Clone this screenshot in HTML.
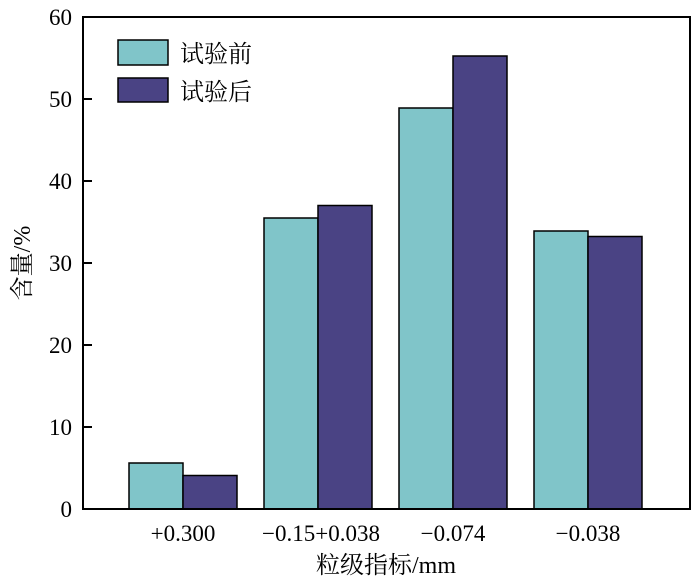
<!DOCTYPE html>
<html><head><meta charset="utf-8"><style>body{margin:0;background:#fff}</style></head><body>
<svg width="700" height="581" xmlns="http://www.w3.org/2000/svg" font-family="'Liberation Serif','Noto Serif CJK SC',serif">
<rect width="700" height="581" fill="#fff"/>
<g stroke="#000" stroke-width="1.5">
<rect x="129" y="463" width="54" height="46" fill="#80c5c9"/>
<rect x="183" y="475.5" width="54" height="33.5" fill="#4a4384"/>
<rect x="264" y="218" width="54" height="291" fill="#80c5c9"/>
<rect x="318" y="205.5" width="54" height="303.5" fill="#4a4384"/>
<rect x="399" y="108" width="54" height="401" fill="#80c5c9"/>
<rect x="453" y="56" width="54" height="453" fill="#4a4384"/>
<rect x="534" y="231" width="54" height="278" fill="#80c5c9"/>
<rect x="588" y="236.5" width="54" height="272.5" fill="#4a4384"/>
<rect x="118" y="40" width="50" height="25" fill="#80c5c9"/>
<rect x="118" y="78" width="50" height="24" fill="#4a4384"/>
</g>
<rect x="83" y="17" width="607" height="492" fill="none" stroke="#000" stroke-width="2"/>
<g stroke="#000" stroke-width="2">
<line x1="83" y1="427" x2="92" y2="427"/><line x1="83" y1="345" x2="92" y2="345"/><line x1="83" y1="263" x2="92" y2="263"/><line x1="83" y1="181" x2="92" y2="181"/><line x1="83" y1="99" x2="92" y2="99"/>
</g>
<g font-size="23" text-anchor="end" fill="#000">
<text x="72" y="517">0</text><text x="72" y="435">10</text><text x="72" y="353">20</text><text x="72" y="271">30</text><text x="72" y="189">40</text><text x="72" y="107">50</text><text x="72" y="25">60</text>
</g>
<g font-size="23" text-anchor="middle" fill="#000">
<text x="183" y="541">+0.300</text><text x="321" y="541">−0.15+0.038</text><text x="453" y="541">−0.074</text><text x="588" y="541">−0.038</text>
<text x="386" y="573" font-size="24">粒级指标/mm</text>
</g>
<text transform="translate(30,263) rotate(-90)" font-size="24" text-anchor="middle">含量/%</text>
<text x="180" y="62" font-size="24">试验前</text>
<text x="180" y="100" font-size="24">试验后</text>
</svg>
</body></html>
